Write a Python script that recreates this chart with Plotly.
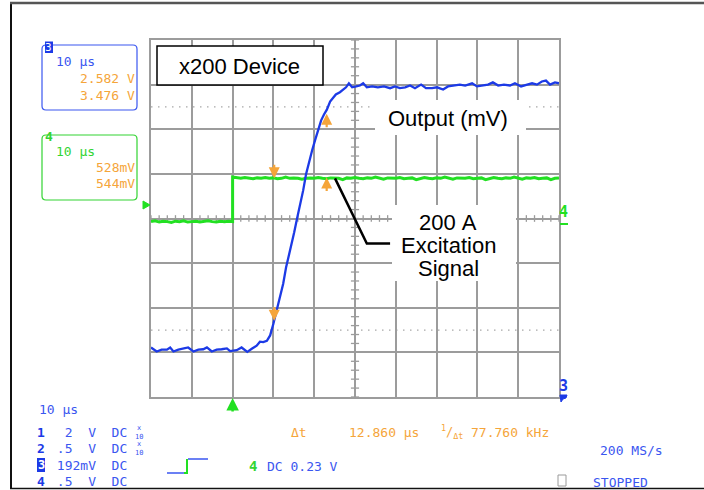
import plotly.graph_objects as go

W, H = 704, 490

# ---------------- data (scope units: time in microseconds, amplitude in divisions) -------------
time_range_us = [0, 100]          # 10 us/div, 10 divisions
div_range = [-4, 4]               # 8 vertical divisions

# Channel 3 (blue): device output
blue_t = [0.0, 1.4, 2.6, 3.9, 4.7, 5.5, 6.7, 7.9, 9.1, 10.4, 11.6, 12.8, 13.7, 14.9, 16.1,
          17.3, 18.6, 19.4, 21.0, 22.2, 23.6, 24.7, 25.9, 26.7, 27.5, 28.4, 29.2, 30.0, 30.8,
          31.6, 32.4, 33.1, 34.1, 35.1, 35.8, 36.5, 37.3, 38.0, 38.7, 39.5, 40.2, 40.9, 41.7,
          42.4, 43.1, 43.9, 44.6, 45.3, 46.3, 47.1, 47.8, 48.5, 49.3, 50.3, 51.2, 52.0, 52.9,
          54.2, 55.6, 57.1, 58.6, 59.8, 61.0, 62.3, 63.5, 64.7, 66.2, 67.4, 68.9, 70.1, 71.6,
          72.8, 74.5, 75.7, 77.0, 78.7, 79.9, 81.4, 82.6, 83.8, 85.1, 86.5, 88.0, 89.2, 90.7,
          92.2, 93.4, 94.6, 95.8, 96.8, 97.8, 99.0, 100.0]
blue_v = [-2.89, -2.98, -2.94, -2.94, -2.89, -2.98, -2.94, -2.92, -2.89, -2.98, -2.94, -2.93,
          -2.89, -2.98, -2.94, -2.93, -2.91, -2.97, -2.95, -2.89, -2.99, -2.92, -2.85, -2.76,
          -2.77, -2.74, -2.62, -2.36, -2.06, -1.79, -1.46, -1.10, -0.72, -0.31, 0.00, 0.29,
          0.63, 0.99, 1.26, 1.53, 1.75, 1.97, 2.20, 2.33, 2.44, 2.62, 2.71, 2.78, 2.83, 2.89,
          2.94, 3.03, 2.94, 2.96, 2.98, 3.03, 2.94, 2.96, 2.94, 2.96, 2.92, 2.96, 2.92, 2.94,
          2.98, 2.92, 3.00, 2.92, 2.92, 2.94, 2.89, 2.96, 2.98, 3.00, 2.98, 3.03, 2.96, 2.98,
          3.00, 3.05, 2.98, 3.00, 2.98, 3.03, 2.96, 3.00, 3.03, 3.00, 3.07, 3.09, 3.00, 3.05,
          3.03]

# Channel 4 (green): 200 A excitation step
green_low_t = list(range(0, 21))
green_low_v = [-0.07, -0.05, -0.08, -0.06, -0.07, -0.09, -0.06, -0.07, -0.05, -0.08, -0.07,
               -0.06, -0.08, -0.07, -0.05, -0.07, -0.08, -0.06, -0.07, -0.06, -0.07]
green_high_t = list(range(20, 101))
green_high_v = [0.93, 0.91, 0.90, 0.92, 0.90, 0.89, 0.91, 0.90, 0.92, 0.90,
                0.91, 0.89, 0.90, 0.93, 0.90, 0.91, 0.90, 0.88, 0.90, 0.91,
                0.90, 0.92, 0.90, 0.89, 0.91, 0.90, 0.90, 0.87, 0.91, 0.90,
                0.92, 0.90, 0.89, 0.91, 0.90, 0.93, 0.90, 0.88, 0.91, 0.90,
                0.90, 0.92, 0.89, 0.90, 0.91, 0.87, 0.90, 0.92, 0.90, 0.89,
                0.91, 0.90, 0.93, 0.90, 0.88, 0.91, 0.90, 0.90, 0.92, 0.89,
                0.90, 0.91, 0.87, 0.90, 0.92, 0.90, 0.89, 0.91, 0.90, 0.93,
                0.90, 0.88, 0.91, 0.90, 0.92, 0.89, 0.90, 0.91, 0.87, 0.90,
                0.91]

# cursors
cursor_t = [30.2, 43.06]          # delta t = 12.86 us
blue_cursor_v = [-2.29, 2.35]
green_cursor_v = [0.90, 0.92]
trigger_t = 20.0

# leader line for the "200 A Excitation Signal" callout (time, div)
leader_t = [45.1, 52.9, 58.6]
leader_v = [0.90, -0.56, -0.56]

# readout texts
ch3_readout = ["10 μs", "2.582 V", "3.476 V"]
ch4_readout = ["10 μs", "528mV", "544mV"]
timebase_label = "10 μs"
channel_ids = ["1", "2", "3", "4"]
channel_settings = ["  2  V  DC", " .5  V  DC", " 192mV  DC", " .5  V  DC"]
trigger_label = "DC 0.23 V"
delta_t_label = "12.860 μs"
inv_delta_label = "77.760 kHz"
sample_rate_label = "200 MS/s"
status_label = "STOPPED"

# ---------------- styling ----------------
BLUE = "#1c3ae6"
BLUE_TXT = "#3a56f0"
GREEN = "#22e022"
GREEN_TXT = "#33d433"
ORANGE = "#f5a53a"
GRID = "#9c9c9c"
MONO = "DejaVu Sans Mono"
SANS = "Liberation Sans, Arial"

GX0, GX1, GY0, GY1 = 151, 559, 40, 397   # graticule in pixels


def PX(x):
    return x / W


def PY(y):
    return 1 - y / H


def nb(s):
    return s.replace(" ", "\u00a0")


def txt(x, y, s, color, size=13, anchor="left", family=MONO, vanchor="middle"):
    return dict(x=PX(x), y=PY(y), xref="paper", yref="paper", text=nb(s), showarrow=False,
                xanchor=anchor, yanchor=vanchor, borderpad=0,
                font=dict(family=family, size=size, color=color))


def rrect(x0, y0, x1, y1, r):
    a0, a1 = PX(x0), PX(x1)
    b0, b1 = PY(y0), PY(y1)
    rx, ry = r / W, r / H
    return (f"M {a0+rx},{b0} L {a1-rx},{b0} Q {a1},{b0} {a1},{b0-ry} L {a1},{b1+ry} "
            f"Q {a1},{b1} {a1-rx},{b1} L {a0+rx},{b1} Q {a0},{b1} {a0},{b1+ry} "
            f"L {a0},{b0-ry} Q {a0},{b0} {a0+rx},{b0} Z")


fig = go.Figure()

# center-axis minor ticks (5 per division)
tick_shapes = []
for k in range(0, 41):
    v = div_range[0] + k * 0.2
    tick_shapes.append(dict(type="line", xref="x", yref="y", x0=49.0, x1=51.0, y0=v, y1=v,
                            line=dict(color=GRID, width=1.3), layer="below"))
for k in range(0, 51):
    t = k * 2.0
    tick_shapes.append(dict(type="line", xref="x", yref="y", x0=t, x1=t, y0=-0.075, y1=0.075,
                            line=dict(color=GRID, width=1.3), layer="below"))

# dotted reference lines at +-2.5 div
for v in (2.5, -2.5):
    tick_shapes.append(dict(type="line", xref="x", yref="y", x0=0, x1=100, y0=v, y1=v,
                            line=dict(color="#a8a8a8", width=1.3, dash="1.5px,5.5px"),
                            layer="below"))

fig.add_trace(go.Scatter(x=green_low_t + green_high_t, y=green_low_v + green_high_v,
                         mode="lines", line=dict(color=GREEN, width=3), hoverinfo="skip"))
fig.add_trace(go.Scatter(x=blue_t, y=blue_v, mode="lines",
                         line=dict(color=BLUE, width=2.3), hoverinfo="skip"))

shapes = list(tick_shapes)

# white callout boxes
shapes.append(dict(type="rect", xref="paper", yref="paper", x0=PX(157), x1=PX(323),
                   y0=PY(85), y1=PY(46), fillcolor="white",
                   line=dict(color="black", width=1.5), layer="above"))
shapes.append(dict(type="rect", xref="paper", yref="paper", x0=PX(375), x1=PX(526),
                   y0=PY(135), y1=PY(100), fillcolor="white", line=dict(width=0),
                   layer="above"))
shapes.append(dict(type="rect", xref="paper", yref="paper", x0=PX(392), x1=PX(516),
                   y0=PY(281), y1=PY(205), fillcolor="white", line=dict(width=0),
                   layer="above"))

# leader line
shapes.append(dict(type="path", xref="x", yref="y",
                   path=f"M {leader_t[0]},{leader_v[0]} L {leader_t[1]},{leader_v[1]} "
                        f"L {leader_t[2]},{leader_v[2]}",
                   line=dict(color="black", width=2.5), layer="above"))

# outer frame
shapes.append(dict(type="line", xref="paper", yref="paper", x0=PX(11), x1=PX(11),
                   y0=PY(2), y1=PY(489), line=dict(color="#111", width=2)))
shapes.append(dict(type="line", xref="paper", yref="paper", x0=PX(10), x1=1,
                   y0=PY(3), y1=PY(3), line=dict(color="#555", width=2.5)))
shapes.append(dict(type="line", xref="paper", yref="paper", x0=PX(10), x1=1,
                   y0=PY(488.5), y1=PY(488.5), line=dict(color="#111", width=1.5)))

# channel readout boxes
shapes.append(dict(type="path", xref="paper", yref="paper", path=rrect(42, 45, 137, 110, 4),
                   line=dict(color=BLUE_TXT, width=1.2)))
shapes.append(dict(type="path", xref="paper", yref="paper", path=rrect(42, 135, 137, 200, 4),
                   line=dict(color=GREEN_TXT, width=1.2)))
shapes.append(dict(type="rect", xref="paper", yref="paper", x0=PX(45), x1=PX(53),
                   y0=PY(53), y1=PY(41.5), fillcolor=BLUE, line=dict(width=0)))
shapes.append(dict(type="rect", xref="paper", yref="paper", x0=PX(37), x1=PX(45),
                   y0=PY(472), y1=PY(458), fillcolor=BLUE, line=dict(width=0)))

# trigger glyph
shapes.append(dict(type="path", xref="paper", yref="paper",
                   path=f"M {PX(167)},{PY(473)} L {PX(185)},{PY(473)}",
                   line=dict(color=BLUE_TXT, width=1.5)))
shapes.append(dict(type="path", xref="paper", yref="paper",
                   path=f"M {PX(184)},{PY(473)} L {PX(187)},{PY(473)} L {PX(187)},{PY(459)}",
                   line=dict(color=GREEN, width=2)))
shapes.append(dict(type="path", xref="paper", yref="paper",
                   path=f"M {PX(188)},{PY(459)} L {PX(208)},{PY(459)}",
                   line=dict(color=BLUE_TXT, width=1.5)))

# stopped indicator box
shapes.append(dict(type="rect", xref="paper", yref="paper", x0=PX(558), x1=PX(566),
                   y0=PY(486), y1=PY(475), line=dict(color="#9a9a9a", width=1)))

# right-edge markers
shapes.append(dict(type="line", xref="paper", yref="paper", x0=PX(560), x1=PX(568),
                   y0=PY(224), y1=PY(224), line=dict(color=GREEN, width=2)))
shapes.append(dict(type="path", xref="paper", yref="paper",
                   path=f"M {PX(560)},{PY(395)} L {PX(567)},{PY(395)} L {PX(566)},{PY(398)} "
                        f"L {PX(563)},{PY(399)} L {PX(561)},{PY(402)} Z",
                   fillcolor=BLUE, line=dict(color=BLUE, width=1)))

# left green channel-4 ground marker
shapes.append(dict(type="path", xref="paper", yref="paper",
                   path=f"M {PX(143)},{PY(201)} L {PX(150)},{PY(205)} L {PX(143)},{PY(209)} Z",
                   fillcolor=GREEN, line=dict(color=GREEN, width=1)))

ann = []
# cursor arrows
for i, (t, vb, vg) in enumerate(zip(cursor_t, blue_cursor_v, green_cursor_v)):
    off = -15 if i == 0 else 15
    for v in (vb, vg):
        ann.append(dict(x=t, y=v, xref="x", yref="y", ax=0, ay=off, text="",
                        showarrow=True, arrowhead=2, arrowsize=1, arrowwidth=2.2,
                        arrowcolor=ORANGE, standoff=0))
# trigger arrow
ann.append(dict(x=trigger_t, y=PY(398), xref="x", yref="paper", ax=0, ay=15, text="",
                showarrow=True, arrowhead=2, arrowsize=1, arrowwidth=2.5,
                arrowcolor=GREEN, standoff=0))

# callout texts
ann.append(txt(240, 66, "x200 Device", "black", 22, "center", SANS))
ann.append(txt(448, 118, "Output (mV)", "black", 22, "center", SANS))
ann.append(txt(448, 222, "200 A", "black", 22, "center", SANS))
ann.append(txt(448, 245, "Excitation", "black", 22, "center", SANS))
ann.append(txt(448, 268, "Signal", "black", 22, "center", SANS))

# channel readouts
ann.append(txt(49, 47.5, "3", "white", 11, "center", MONO))
ann.append(txt(55, 62, ch3_readout[0], BLUE_TXT, 13))
ann.append(txt(136, 79, ch3_readout[1], ORANGE, 13, "right"))
ann.append(txt(136, 95, ch3_readout[2], ORANGE, 13, "right"))
ann.append(txt(49, 136, "<b>4</b>", GREEN_TXT, 13, "center", MONO))
ann.append(txt(55, 152, ch4_readout[0], GREEN_TXT, 13))
ann.append(txt(136, 167, ch4_readout[1], ORANGE, 13, "right"))
ann.append(txt(136, 183, ch4_readout[2], ORANGE, 13, "right"))

# bottom status area
ann.append(txt(38, 409, timebase_label, BLUE_TXT, 13))
rows_y = [432, 448, 465, 481]
for cid, sett, y in zip(channel_ids, channel_settings, rows_y):
    if cid == "3":
        ann.append(txt(41, y, "<b>3</b>", "white", 12, "center"))
    else:
        ann.append(txt(41, y, f"<b>{cid}</b>", BLUE, 13, "center"))
    ann.append(txt(48, y, sett, BLUE_TXT, 13))
for y in rows_y[:2]:
    ann.append(dict(x=PX(139), y=PY(y), xref="paper", yref="paper", text="x<br>10",
                    showarrow=False, xanchor="center", yanchor="middle",
                    font=dict(family=MONO, size=7, color=BLUE_TXT)))

ann.append(txt(253, 466, "<b>4</b>", GREEN_TXT, 14, "center"))
ann.append(txt(266, 466, trigger_label, BLUE_TXT, 13))
ann.append(txt(290, 432, "Δt", ORANGE, 13))
ann.append(txt(348, 432, delta_t_label, ORANGE, 13))
ann.append(dict(x=PX(452), y=PY(432), xref="paper", yref="paper",
                text="<sup>1</sup>/<sub>Δt</sub>", showarrow=False, xanchor="center",
                yanchor="middle", font=dict(family=MONO, size=12, color=ORANGE)))
ann.append(txt(470, 432, inv_delta_label, ORANGE, 13))
ann.append(txt(599, 450, sample_rate_label, BLUE_TXT, 13))
ann.append(txt(592, 482, status_label, BLUE_TXT, 13))

ann.append(txt(563.5, 212, "<b>4</b>", GREEN, 15, "center"))
ann.append(txt(563.5, 386, "<b>3</b>", BLUE, 15, "center"))

axis_common = dict(showgrid=True, gridcolor=GRID, gridwidth=1.5, zeroline=False,
                   showticklabels=False, ticks="", showline=True, linecolor=GRID,
                   linewidth=2, mirror=True, fixedrange=True)

fig.update_layout(
    width=W, height=H,
    margin=dict(l=0, r=0, t=0, b=0),
    paper_bgcolor="white", plot_bgcolor="white",
    showlegend=False,
    xaxis=dict(domain=[GX0 / W, GX1 / W], range=time_range_us, dtick=10, tick0=0,
               **axis_common),
    yaxis=dict(domain=[1 - GY1 / H, 1 - GY0 / H], range=div_range, dtick=1, tick0=0,
               **axis_common),
    shapes=shapes,
    annotations=ann,
)

fig.write_html("out.html", config={"displayModeBar": False},
               post_script="document.body.style.margin='0';document.body.style.overflow='hidden';")
